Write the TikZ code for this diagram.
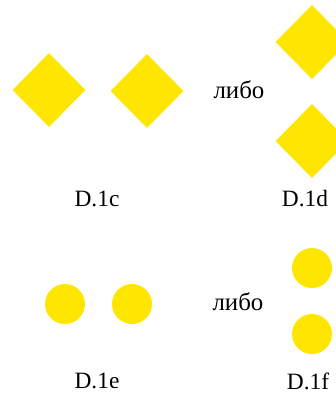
\documentclass[tikz,border=0pt]{standalone}
\usepackage{fontspec}
\setmainfont{Liberation Serif}
\usepackage{tikz}
\usetikzlibrary{shapes.geometric, positioning}
\definecolor{myyellow}{RGB}{255,230,0}
\tikzset{
  rhomb/.style={diamond, fill=myyellow, inner sep=0pt, shape aspect=1,
    minimum width=73bp, minimum height=74bp},
  disc/.style={circle, fill=myyellow, inner sep=0pt, minimum size=40bp},
  caption/.style={font=\fontsize{23.5}{26}\selectfont, inner sep=0pt},
  ortext/.style={font=\fontsize{25}{28}\selectfont, inner sep=0pt}
}

\begin{document}
\begin{tikzpicture}[x=1bp, y=-1bp]
  \useasboundingbox (0,0) rectangle (336,395);

  % diamonds
  \node[rhomb] (d1) at (49,90) {};
  \node[rhomb] (d2) at (147,91) {};
  \node[ortext] (or1) at (239,90) {либо};
  \node[rhomb] (d3) at (312,42) {};
  \node[rhomb] (d4) at (312,141) {};
  \node[caption] (c1) at (97,199) {D.1c};
  \node[caption] (c2) at (305,199) {D.1d};

  % circles
  \node[disc] (e1) at (65,304) {};
  \node[disc] (e2) at (132,304) {};
  \node[ortext] (or2) at (238,302) {либо};
  \node[disc] (f1) at (312,268) {};
  \node[disc] (f2) at (312,334) {};
  \node[caption] (c3) at (97,381) {D.1e};
  \node[caption] (c4) at (308,381) {D.1f};
\end{tikzpicture}
\end{document}
